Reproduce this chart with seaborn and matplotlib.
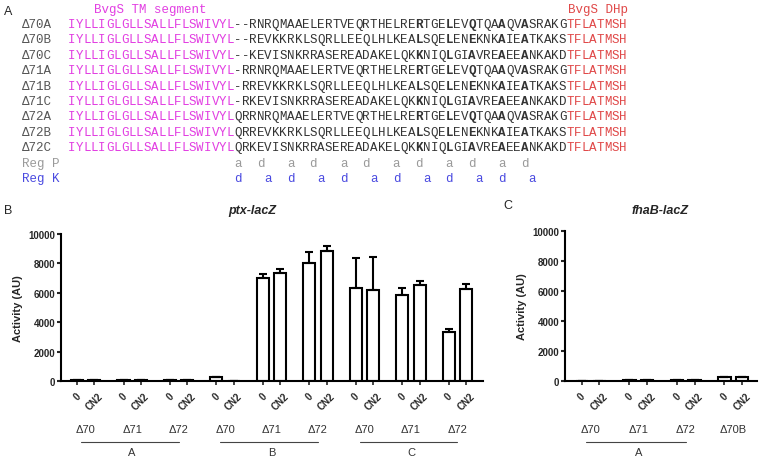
import numpy as np
import pandas as pd
import matplotlib
matplotlib.use("Agg")
import matplotlib.pyplot as plt
import seaborn as sns

sns.set_theme(style="ticks")
plt.rcParams["font.family"] = ["Liberation Sans", "DejaVu Sans"]

# ---- panel A: alignment ----
tm_seg = "IYLLIGLGLLSALLFLSWIVYL"
dhp_seg = "TFLATMSH"
core_seqs = {
    "A": "RNRQMAAELERTVEQRTHELRERTGELEVQTQAAQVASRAKG",
    "B": "REVKKRKLSQRLLEEQLHLKEALSQELENEKNKAIEATKAKS",
    "C": "KEVISNKRRASEREADAKELQKKNIQLGIAVREAEEANKAKD",
}
linkers = {"70": "--", "71": "-R", "72": "QR"}
row_names = ["70A", "70B", "70C", "71A", "71B", "71C", "72A", "72B", "72C"]
bold_cols = [46, 50, 53, 57, 60]
regP_cols = [22, 25, 29, 32, 36, 39, 43, 46, 50, 53, 57, 60]
regP_letters = "adadadadadad"
regK_cols = [22, 26, 29, 33, 36, 40, 43, 47, 50, 54, 57, 61]
regK_letters = "dadadadadada"

# ---- panel B: ptx-lacZ ----
ptx_mutants = ["Δ70", "Δ71", "Δ72", "Δ70", "Δ71", "Δ72", "Δ70", "Δ71", "Δ72"]
ptx_sets = ["A", "A", "A", "B", "B", "B", "C", "C", "C"]
ptx_zero = [40, 40, 40, 250, 7000, 8000, 6300, 5850, 3350]
ptx_zero_err = [10, 10, 10, 30, 300, 800, 2050, 450, 200]
ptx_cn2 = [40, 40, 40, 10, 7350, 8850, 6200, 6550, 6250]
ptx_cn2_err = [10, 10, 10, 5, 280, 350, 2250, 250, 350]

# ---- panel C: fhaB-lacZ ----
fha_mutants = ["Δ70", "Δ71", "Δ72", "Δ70B"]
fha_sets = ["A", "A", "A", ""]
fha_zero = [25, 50, 60, 250]
fha_zero_err = [5, 10, 10, 20]
fha_cn2 = [25, 50, 50, 280]
fha_cn2_err = [5, 10, 10, 20]

W, H = 760, 460
fig = plt.figure(figsize=(7.6, 4.6), dpi=100)


def fx(x):
    return x / W


def fy(y):
    return 1 - y / H


MAGENTA = "#e23ee2"
RED = "#e04848"
DARK = "#333333"
GREY = "#9a9a9a"
BLUE = "#4a4ae0"
mono = ["Liberation Mono", "DejaVu Sans Mono"]

x0, cw, y0, rh = 68, 7.55, 24, 15.4


def col_x(c):
    return x0 + (c + 0.5) * cw


fig.text(fx(8), fy(12), "A", fontsize=9, ha="center", va="center")
fig.text(fx(150), fy(10), "BvgS TM segment", family=mono, fontsize=9,
         color=MAGENTA, ha="center", va="center")
fig.text(fx(568), fy(10), "BvgS DHp", family=mono, fontsize=9,
         color=RED, ha="left", va="center")

for r, name in enumerate(row_names):
    seq = tm_seg + linkers[name[:2]] + core_seqs[name[2]] + dhp_seg
    yb = fy(y0 + r * rh + 4)
    fig.text(fx(22), yb, "Δ" + name, family=mono, fontsize=9, color="#555555",
             ha="left", va="baseline")
    for c, ch in enumerate(seq):
        if c < len(tm_seg):
            color = MAGENTA
        elif c >= len(seq) - len(dhp_seg):
            color = RED
        else:
            color = DARK
        weight = "bold" if c in bold_cols else "normal"
        fig.text(fx(col_x(c)), yb, ch, family=mono, fontsize=9, color=color,
                 fontweight=weight, ha="center", va="baseline")

for r, (label, cols, letters, color) in enumerate([
        ("Reg P", regP_cols, regP_letters, GREY),
        ("Reg K", regK_cols, regK_letters, BLUE)]):
    yb = fy(y0 + (9 + r) * rh + 4)
    fig.text(fx(22), yb, label, family=mono, fontsize=9, color=color,
             ha="left", va="baseline")
    for c, ch in zip(cols, letters):
        fig.text(fx(col_x(c)), yb, ch, family=mono, fontsize=9, color=color,
                 ha="center", va="baseline")


def activity_panel(ax, mutants, sets, zero, zero_err, cn2, cn2_err, xlim):
    n = len(mutants)
    groups = [f"{s}|{m}" for s, m in zip(sets, mutants)]
    df = pd.DataFrame({
        "group": groups * 2,
        "treat": ["0"] * n + ["CN2"] * n,
        "activity": zero + cn2,
    })
    sns.barplot(data=df, x="group", y="activity", hue="treat", order=groups,
                hue_order=["0", "CN2"], palette={"0": "white", "CN2": "white"},
                edgecolor="black", linewidth=1.5, width=0.74, gap=0.3,
                errorbar=None, legend=False, ax=ax)
    centers, labels = [], []
    for cont, errs, lab in zip(ax.containers, [zero_err, cn2_err], ["0", "CN2"]):
        xs = [b.get_x() + b.get_width() / 2 for b in cont]
        hs = [b.get_height() for b in cont]
        ax.errorbar(xs, hs, yerr=[np.zeros(len(errs)), errs], fmt="none",
                    ecolor="black", elinewidth=1.5, capsize=3, capthick=1.5,
                    zorder=1)
        centers += xs
        labels += [lab] * len(xs)
    ax.set_xticks(centers)
    ax.set_xticklabels(labels, rotation=45, ha="center", fontweight="bold",
                       fontsize=7)
    ax.set_xlim(*xlim)
    ax.set_ylim(0, 10000)
    ax.set_yticks(range(0, 10001, 2000))
    ax.set_yticklabels([str(v) for v in range(0, 10001, 2000)],
                       fontweight="bold", fontsize=7)
    ax.tick_params(axis="x", length=3, width=1.2, pad=4)
    ax.tick_params(axis="y", length=3, width=1.5, pad=1)
    ax.set_xlabel("")
    ax.set_ylabel("Activity (AU)", fontweight="bold", fontsize=8, labelpad=4)
    sns.despine(ax=ax)
    for sp in ["left", "bottom"]:
        ax.spines[sp].set_linewidth(1.5)
        ax.spines[sp].set_color("black")

    ax_h = ax.get_position().height * H
    trans = ax.get_xaxis_transform()
    for i, m in enumerate(mutants):
        ax.text(i, -48 / ax_h, m, transform=trans, ha="center", va="center",
                fontsize=8, color="#333333")
    for s in dict.fromkeys(sets):
        if not s:
            continue
        idx = [i for i, v in enumerate(sets) if v == s]
        ax.plot([idx[0] - 0.1, idx[-1]], [-61 / ax_h] * 2, transform=trans,
                color="#444444", lw=0.8, clip_on=False)
        ax.text((idx[0] + idx[-1]) / 2, -71 / ax_h, s, transform=trans,
                ha="center", va="center", fontsize=8, color="#333333")


axB = fig.add_axes([fx(61), 78 / H, (483 - 61) / W, 147 / H])
activity_panel(axB, ptx_mutants, ptx_sets, ptx_zero, ptx_zero_err,
               ptx_cn2, ptx_cn2_err, (-0.53, 8.55))

axC = fig.add_axes([fx(565), 78 / H, (757 - 565) / W, 150 / H])
activity_panel(axC, fha_mutants, fha_sets, fha_zero, fha_zero_err,
               fha_cn2, fha_cn2_err, (-0.54, 3.5))

fig.text(fx(8), fy(211), "B", fontsize=9, ha="center", va="center")
fig.text(fx(508), fy(206), "C", fontsize=9, ha="center", va="center")
fig.text(fx(252), fy(211), "ptx-lacZ", fontsize=9, fontweight="bold",
         fontstyle="italic", ha="center", va="center")
fig.text(fx(660), fy(211), "fhaB-lacZ", fontsize=9, fontweight="bold",
         fontstyle="italic", ha="center", va="center")

fig.savefig("out.png", dpi=100)
